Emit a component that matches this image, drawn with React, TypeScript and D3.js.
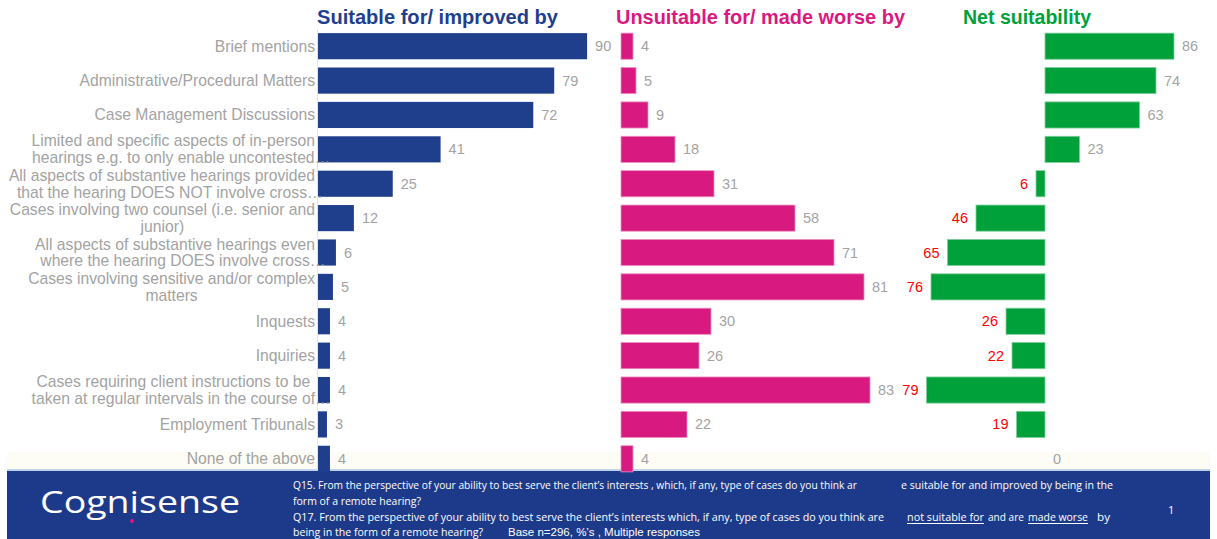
import React, { useEffect, useRef } from "react";
import * as d3 from "d3";

const categoryLines: string[][] = [
  ["Brief mentions"],
  ["Administrative/Procedural Matters"],
  ["Case Management Discussions"],
  ["Limited and specific aspects of in-person", "hearings e.g. to only enable uncontested…"],
  ["All aspects of substantive hearings provided", "that the hearing DOES NOT involve cross…"],
  ["Cases involving two counsel (i.e. senior and", "junior)"],
  ["All aspects of substantive hearings even", "where the hearing DOES involve cross…"],
  ["Cases involving sensitive and/or complex", "matters"],
  ["Inquests"],
  ["Inquiries"],
  ["Cases requiring client instructions to be", "taken at regular intervals in the course of…"],
  ["Employment Tribunals"],
  ["None of the above"],
];
const categories = categoryLines.map((l) => l.join(" "));
const suitable = [90, 79, 72, 41, 25, 12, 6, 5, 4, 4, 4, 3, 4];
const unsuitable = [4, 5, 9, 18, 31, 58, 71, 81, 30, 26, 83, 22, 4];
const net = [86, 74, 63, 23, -6, -46, -65, -76, -26, -22, -79, -19, 0];
const titles = ["Suitable for/ improved by", "Unsuitable for/ made worse by", "Net suitability"];

const NAVY = "#1F3F8C";
const MAGENTA = "#D8197F";
const GREEN = "#00A13A";
const GREY = "#A3A3A3";
const FOOTER = "#1D3A8A";

export default function App() {
  const ref = useRef<SVGSVGElement>(null);

  useEffect(() => {
    const svg = d3.select(ref.current);
    svg.selectAll("*").remove();

    const y = d3.scaleBand<string>().domain(categories).range([29, 476]).paddingInner(0.24).paddingOuter(0.12);
    const xL = d3.scaleLinear().domain([0, 100]).range([318, 617]);
    const xM = d3.scaleLinear().domain([0, 100]).range([621, 921]);
    const xR = d3.scaleLinear().domain([-100, 100]).range([895, 1195]);

    // faint band above footer
    svg.append("rect").attr("x", 7).attr("y", 452).attr("width", 1203).attr("height", 18).attr("fill", "#FDFDF6");

    // footer
    svg.append("rect").attr("x", 7).attr("y", 470).attr("width", 1203).attr("height", 69).attr("fill", FOOTER);
    svg.append("rect").attr("x", 7).attr("y", 469).attr("width", 1203).attr("height", 2).attr("fill", "#BFD3EA");

    // titles
    const tg = svg.append("g").attr("font-family", "'Liberation Sans', Arial, sans-serif").attr("font-weight", "bold").attr("font-size", 19.5)
      .attr("lengthAdjust", "spacingAndGlyphs");
    tg.append("text").attr("x", 317).attr("y", 24).attr("fill", NAVY).attr("textLength", 241).attr("lengthAdjust", "spacingAndGlyphs").text(titles[0]);
    tg.append("text").attr("x", 616).attr("y", 24).attr("fill", MAGENTA).attr("textLength", 289).attr("lengthAdjust", "spacingAndGlyphs").text(titles[1]);
    tg.append("text").attr("x", 963).attr("y", 24).attr("fill", GREEN).attr("textLength", 128).attr("lengthAdjust", "spacingAndGlyphs").text(titles[2]);

    // axis line
    svg.append("line").attr("x1", 317.5).attr("x2", 317.5).attr("y1", 29).attr("y2", 470).attr("stroke", "#E4E4E4");

    const bh = y.bandwidth();
    const font = "'Liberation Sans', Arial, sans-serif";

    categories.forEach((c, i) => {
      const yy = y(c)!;
      svg.append("rect").attr("x", xL(0)).attr("y", yy).attr("width", xL(suitable[i]) - xL(0)).attr("height", bh).attr("fill", NAVY);
      svg.append("text").attr("x", xL(suitable[i]) + 8).attr("y", yy + bh / 2).attr("dy", "0.35em")
        .attr("font-family", font).attr("font-size", 14.5).attr("fill", GREY).text(suitable[i]);

      svg.append("rect").attr("x", xM(0)).attr("y", yy).attr("width", xM(unsuitable[i]) - xM(0)).attr("height", bh)
        .attr("fill", MAGENTA).attr("stroke", "#EE8FC0").attr("stroke-width", 0.8);
      svg.append("text").attr("x", xM(unsuitable[i]) + 8).attr("y", yy + bh / 2).attr("dy", "0.35em")
        .attr("font-family", font).attr("font-size", 14.5).attr("fill", GREY).text(unsuitable[i]);

      const v = net[i];
      const x0 = Math.min(xR(0), xR(v));
      const w = Math.abs(xR(v) - xR(0));
      if (w > 0) {
        svg.append("rect").attr("x", x0).attr("y", yy).attr("width", w).attr("height", bh)
          .attr("fill", GREEN).attr("stroke", "#7FCF9C").attr("stroke-width", 0.8);
      }
      svg.append("text")
        .attr("x", v < 0 ? xR(v) - 8 : xR(v) + 8)
        .attr("y", yy + bh / 2).attr("dy", "0.35em")
        .attr("text-anchor", v < 0 ? "end" : "start")
        .attr("font-family", font).attr("font-size", 14.5)
        .attr("fill", v < 0 ? "#FF0000" : GREY)
        .text(Math.abs(v));
    });

    // category labels: block right-aligned to axis, lines centred within block
    const lg = svg.append("g").attr("font-family", font).attr("font-size", 15.7).attr("fill", GREY);
    const measure = lg.append("text").attr("x", -1000).attr("y", -1000);
    const widthOf = (s: string) => {
      measure.text(s);
      return (measure.node() as SVGTextElement).getComputedTextLength();
    };
    const right = 315;
    categoryLines.forEach((lines, i) => {
      const c = categories[i];
      const cy = y(c)! + bh / 2;
      const cores = lines.map((l) => l.replace(/…$/, ""));
      const widths = cores.map(widthOf);
      const bw = Math.max(...widths);
      const center = right - bw / 2;
      const lh = 16.8;
      lines.forEach((l, j) => {
        const ly = cy + (j - (lines.length - 1) / 2) * lh;
        lg.append("text").attr("x", center - widths[j] / 2).attr("y", ly).attr("dy", "0.35em").text(l);
      });
    });
    measure.remove();

    // logo
    svg.append("text").attr("x", 40).attr("y", 513).attr("font-family", "'Open Sans', sans-serif")
      .attr("font-size", 31).attr("font-weight", 500).attr("fill", "#FFFFFF")
      .attr("textLength", 200).attr("lengthAdjust", "spacingAndGlyphs").text("Cognisense");
    svg.append("circle").attr("cx", 132).attr("cy", 521).attr("r", 2).attr("fill", "#E0157F");

    // footer text
    const fg = svg.append("g").attr("font-family", "'Open Sans', sans-serif").attr("font-size", 10).attr("fill", "#FFFFFF");
    const seg = (x: number, yy: number, t: string, len?: number, underline = false) => {
      const tx = fg.append("text").attr("x", x).attr("y", yy).text(t);
      if (len) tx.attr("textLength", len).attr("lengthAdjust", "spacingAndGlyphs");
      if (underline && len) {
        fg.append("rect").attr("x", x).attr("y", yy + 2).attr("width", len).attr("height", 1).attr("fill", "#FFFFFF");
      }
    };
    seg(293, 489, "Q15. From the perspective of your ability to best serve the client’s interests , which, if any, type of cases do you think ar", 564);
    seg(901, 489, "e suitable for and improved by being in the", 212);
    seg(293, 505, "form of a remote hearing?", 128);
    seg(293, 521, "Q17. From the perspective of your ability to best serve the client’s interests which, if any, type of cases do you think are", 591);
    seg(907, 521, "not suitable for", 77, true);
    seg(988, 521, "and are", 36);
    seg(1028, 521, "made worse", 60, true);
    seg(1097, 521, "by", 13);
    seg(293, 536, "being in the form of a remote hearing?", 190);
    fg.append("text").attr("x", 508).attr("y", 536).attr("font-family", "'Liberation Sans', Arial, sans-serif")
      .attr("textLength", 192).attr("lengthAdjust", "spacingAndGlyphs").text("Base n=296, %’s , Multiple responses");
    fg.append("text").attr("x", 1168).attr("y", 514).attr("font-size", 11).text("1");
  }, []);

  return (
    <svg ref={ref} width={1217} height={539} style={{ position: "absolute", left: 0, top: 0, background: "#FFFFFF" }} />
  );
}
